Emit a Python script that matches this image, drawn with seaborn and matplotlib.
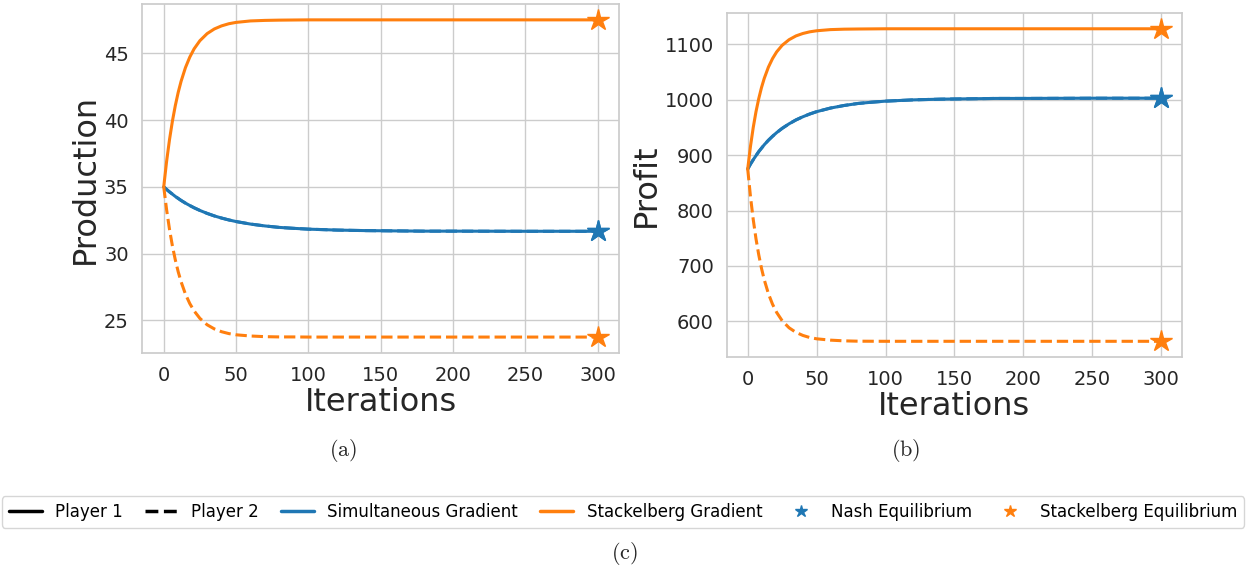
import numpy as np
import pandas as pd
import matplotlib
matplotlib.use("Agg")
import matplotlib.pyplot as plt
from matplotlib.lines import Line2D
import seaborn as sns

# ---- data ----
iterations = [0, 2, 4, 6, 8, 10, 12, 15, 18, 21, 25, 30, 35, 40, 45, 50, 60, 70, 80, 90,
              100, 120, 140, 160, 180, 200, 250, 300]

# Production
sim_prod_p1 = [35.00, 34.80, 34.62, 34.45, 34.28, 34.13, 33.98, 33.78, 33.60, 33.43, 33.23,
               33.01, 32.82, 32.66, 32.52, 32.40, 32.21, 32.07, 31.96, 31.89, 31.83, 31.76,
               31.72, 31.70, 31.68, 31.68, 31.67, 31.67]
sim_prod_p2 = list(sim_prod_p1)
stack_prod_p1 = [35.00, 36.92, 38.54, 39.92, 41.08, 42.07, 42.90, 43.92, 44.71, 45.33, 45.94,
                 46.47, 46.82, 47.05, 47.21, 47.31, 47.42, 47.46, 47.48, 47.49, 47.50, 47.50,
                 47.50, 47.50, 47.50, 47.50, 47.50, 47.50]
stack_prod_p2 = [35.00, 33.27, 31.81, 30.57, 29.53, 28.64, 27.89, 26.97, 26.26, 25.71, 25.15,
                 24.67, 24.36, 24.15, 24.01, 23.92, 23.83, 23.78, 23.76, 23.76, 23.75, 23.75,
                 23.75, 23.75, 23.75, 23.75, 23.75, 23.75]

# Profit
sim_profit_p1 = [875.0, 883.9, 891.8, 899.1, 906.4, 912.6, 918.8, 926.9, 934.1, 940.7, 948.4,
                 956.6, 963.6, 969.3, 974.3, 978.5, 985.0, 989.7, 993.3, 995.6, 997.5, 999.8,
                 1001.1, 1001.7, 1002.4, 1002.4, 1002.8, 1002.8]
sim_profit_p2 = list(sim_profit_p1)
stack_profit_p1 = [875.0, 915.9, 949.9, 978.4, 1002.0, 1022.0, 1038.6, 1058.8, 1074.3, 1086.4,
                   1098.3, 1108.4, 1115.2, 1119.6, 1122.6, 1124.5, 1126.6, 1127.4, 1127.7,
                   1127.9, 1128.1, 1128.1, 1128.1, 1128.1, 1128.1, 1128.1, 1128.1, 1128.1]
stack_profit_p2 = [875.0, 825.4, 784.0, 749.2, 720.3, 695.8, 675.2, 650.2, 631.0, 616.2, 601.2,
                   588.5, 580.2, 574.7, 570.9, 568.6, 566.2, 564.9, 564.3, 564.2, 564.1, 564.1,
                   564.1, 564.1, 564.1, 564.1, 564.1, 564.1]

eq_iteration = 300
nash_prod = [31.67, 31.67]
stack_eq_prod = [47.5, 23.75]
nash_profit = [1002.8, 1002.8]
stack_eq_profit = [1128.1, 564.1]

xticks = [0, 50, 100, 150, 200, 250, 300]
prod_yticks = [25, 30, 35, 40, 45]
profit_yticks = [600, 700, 800, 900, 1000, 1100]

# ---- style ----
sns.set_theme(style="whitegrid")
plt.rcParams['font.family'] = ['DejaVu Sans']
plt.rcParams['mathtext.fontset'] = 'cm'

blue = "#1f77b4"
orange = "#ff7f0e"

fig = plt.figure(figsize=(12.46, 5.72), dpi=100)
ax1 = fig.add_axes([0.114, 0.383, 0.383, 0.610])
ax2 = fig.add_axes([0.5835, 0.376, 0.365, 0.601])

def draw(ax, sp1, sp2, kp1, kp2, nash, steq, ylabel, yticks):
    df = pd.DataFrame({"it": iterations, "sp1": sp1, "sp2": sp2, "kp1": kp1, "kp2": kp2})
    sns.lineplot(data=df, x="it", y="sp2", ax=ax, color=blue, linestyle="--", lw=2.2)
    sns.lineplot(data=df, x="it", y="sp1", ax=ax, color=blue, linestyle="-", lw=2.2)
    sns.lineplot(data=df, x="it", y="kp1", ax=ax, color=orange, linestyle="-", lw=2.2)
    sns.lineplot(data=df, x="it", y="kp2", ax=ax, color=orange, linestyle="--", lw=2.2)
    ax.plot([eq_iteration] * 2, nash, linestyle="none", marker="*", color=blue, markersize=16)
    ax.plot([eq_iteration] * 2, steq, linestyle="none", marker="*", color=orange, markersize=16)
    ax.set_xticks(xticks)
    ax.set_yticks(yticks)
    ax.tick_params(labelsize=14, colors=".15")
    ax.set_xlabel("Iterations", fontsize=23, color=".15")
    ax.set_ylabel(ylabel, fontsize=23, color=".15")
    for s in ax.spines.values():
        s.set_color("#cccccc")

draw(ax1, sim_prod_p1, sim_prod_p2, stack_prod_p1, stack_prod_p2, nash_prod, stack_eq_prod,
     "Production", prod_yticks)
draw(ax2, sim_profit_p1, sim_profit_p2, stack_profit_p1, stack_profit_p2, nash_profit,
     stack_eq_profit, "Profit", profit_yticks)
ax1.yaxis.labelpad = 2
ax2.yaxis.labelpad = 2
ax1.xaxis.labelpad = 1
ax2.xaxis.labelpad = 1

handles = [
    Line2D([], [], color="black", lw=2.5, linestyle="-"),
    Line2D([], [], color="black", lw=2.5, linestyle="--"),
    Line2D([], [], color=blue, lw=2.5),
    Line2D([], [], color=orange, lw=2.5),
    Line2D([], [], color=blue, marker="*", linestyle="none", markersize=9),
    Line2D([], [], color=orange, marker="*", linestyle="none", markersize=9),
]
labels = ["Player 1", "Player 2", "Simultaneous Gradient", "Stackelberg Gradient",
          "Nash Equilibrium", "Stackelberg Equilibrium"]
leg = fig.legend(handles, labels, loc="center", bbox_to_anchor=(0.5, 0.105), ncol=6,
                 fontsize=12, frameon=True, handlelength=2, columnspacing=1.3,
                 handletextpad=0.8, borderpad=0.4)
for t in leg.get_texts():
    t.set_color("black")

fig.text(0.275, 0.213, r"$\mathrm{(a)}$", fontsize=16, ha="center", va="center")
fig.text(0.727, 0.213, r"$\mathrm{(b)}$", fontsize=16, ha="center", va="center")
fig.text(0.501, 0.033, r"$\mathrm{(c)}$", fontsize=16, ha="center", va="center")

fig.savefig("out.png", dpi=100)
